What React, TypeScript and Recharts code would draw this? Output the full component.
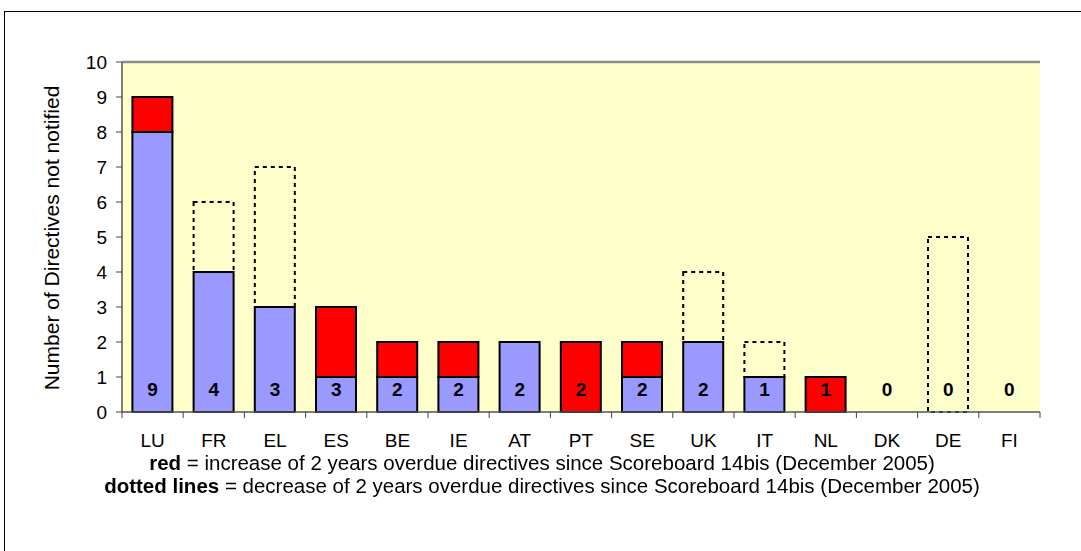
import React from 'react';
import {
  BarChart,
  Bar,
  XAxis,
  YAxis,
  CartesianGrid,
  ReferenceLine,
} from 'recharts';

const countries = ['LU', 'FR', 'EL', 'ES', 'BE', 'IE', 'AT', 'PT', 'SE', 'UK', 'IT', 'NL', 'DK', 'DE', 'FI'];
const unchanged = [8, 4, 3, 1, 1, 1, 2, 0, 1, 2, 1, 0, 0, 0, 0];
const increase = [1, 0, 0, 2, 1, 1, 0, 2, 1, 0, 0, 1, 0, 0, 0];
const decrease = [0, 2, 4, 0, 0, 0, 0, 0, 0, 2, 1, 0, 0, 5, 0];
const yTicks = [0, 1, 2, 3, 4, 5, 6, 7, 8, 9, 10];

const data = countries.map((c, i) => ({
  country: c,
  blue: unchanged[i],
  red: increase[i],
  dotted: decrease[i],
  total: unchanged[i] + increase[i],
}));

const FONT = '"Liberation Sans", Arial, sans-serif';
const W = 1081;
const H = 551;
const PLOT_LEFT = 122;
const PLOT_RIGHT = 1040;
const BAND = (PLOT_RIGHT - PLOT_LEFT) / countries.length;

// category label below the axis, total inside the foot of the bar, tick marks between bands
function XTick({ x, y, payload, index }: any) {
  return (
    <g>
      <text x={x} y={y - 16} textAnchor="middle" fontSize={19} fontWeight="bold" fontFamily={FONT} fill="#000">
        {data[index].total}
      </text>
      <text x={x} y={y + 35} textAnchor="middle" fontSize={19} fontFamily={FONT} fill="#000">
        {payload.value}
      </text>
      <line x1={x - BAND / 2} x2={x - BAND / 2} y1={y} y2={y + 6} stroke="#444" />
      {index === countries.length - 1 && (
        <line x1={x + BAND / 2} x2={x + BAND / 2} y1={y} y2={y + 6} stroke="#444" />
      )}
    </g>
  );
}

function YLabel() {
  return (
    <text
      x={59}
      y={238}
      transform="rotate(-90 59 238)"
      textAnchor="middle"
      fontSize={21}
      fontFamily={FONT}
      fill="#000"
    >
      Number of Directives not notified
    </text>
  );
}

export default function App() {
  return (
    <div style={{ position: 'fixed', left: 0, top: 0, width: W, height: H, background: '#fff', fontFamily: FONT }}>
      <div
        style={{
          position: 'absolute',
          left: 4,
          top: 11,
          right: 0,
          bottom: 0,
          borderLeft: '1.5px solid #000',
          borderTop: '1.5px solid #000',
        }}
      />
      <div style={{ position: 'absolute', left: 0, top: 0 }}>
        <BarChart
          width={W}
          height={H}
          data={data}
          margin={{ top: 62, right: 41, left: 62, bottom: 109 }}
          barCategoryGap="17%"
        >
          <CartesianGrid fill="#FFFFCC" horizontal={false} vertical={false} />
          <YAxis
            width={60}
            domain={[0, 10]}
            ticks={yTicks}
            interval={0}
            tickSize={6}
            tickMargin={9}
            axisLine={{ stroke: '#555', strokeWidth: 1.5 }}
            tickLine={{ stroke: '#444' }}
            tick={{ fontSize: 19, fontFamily: FONT, fill: '#000' }}
            label={<YLabel />}
          />
          <YAxis
            yAxisId="right"
            orientation="right"
            width={0}
            domain={[0, 10]}
            tick={false}
            tickLine={false}
            axisLine={{ stroke: '#8c8c8c', strokeWidth: 2.5 }}
          />
          <ReferenceLine y={10} stroke="#8c8c8c" strokeWidth={2.5} />
          <Bar dataKey="blue" stackId="a" fill="#9999FF" stroke="#000" strokeWidth={2} isAnimationActive={false} />
          <Bar dataKey="red" stackId="a" fill="#FF0000" stroke="#000" strokeWidth={2} isAnimationActive={false} />
          <Bar
            dataKey="dotted"
            stackId="a"
            fill="none"
            stroke="#000"
            strokeWidth={2}
            strokeDasharray="4 4"
            isAnimationActive={false}
          />
          <XAxis
            dataKey="country"
            height={30}
            tickSize={0}
            tickMargin={0}
            tickLine={false}
            axisLine={{ stroke: '#555', strokeWidth: 1.5 }}
            tick={<XTick />}
            interval={0}
          />
        </BarChart>
      </div>
      <div
        style={{
          position: 'absolute',
          left: 0,
          width: 1084,
          top: 451,
          textAlign: 'center',
          fontSize: 20.5,
          lineHeight: '23px',
          color: '#000',
        }}
      >
        <div>
          <b>red</b> = increase of 2 years overdue directives since Scoreboard 14bis (December 2005)
        </div>
        <div>
          <b>dotted lines</b> = decrease of 2 years overdue directives since Scoreboard 14bis (December 2005)
        </div>
      </div>
    </div>
  );
}
